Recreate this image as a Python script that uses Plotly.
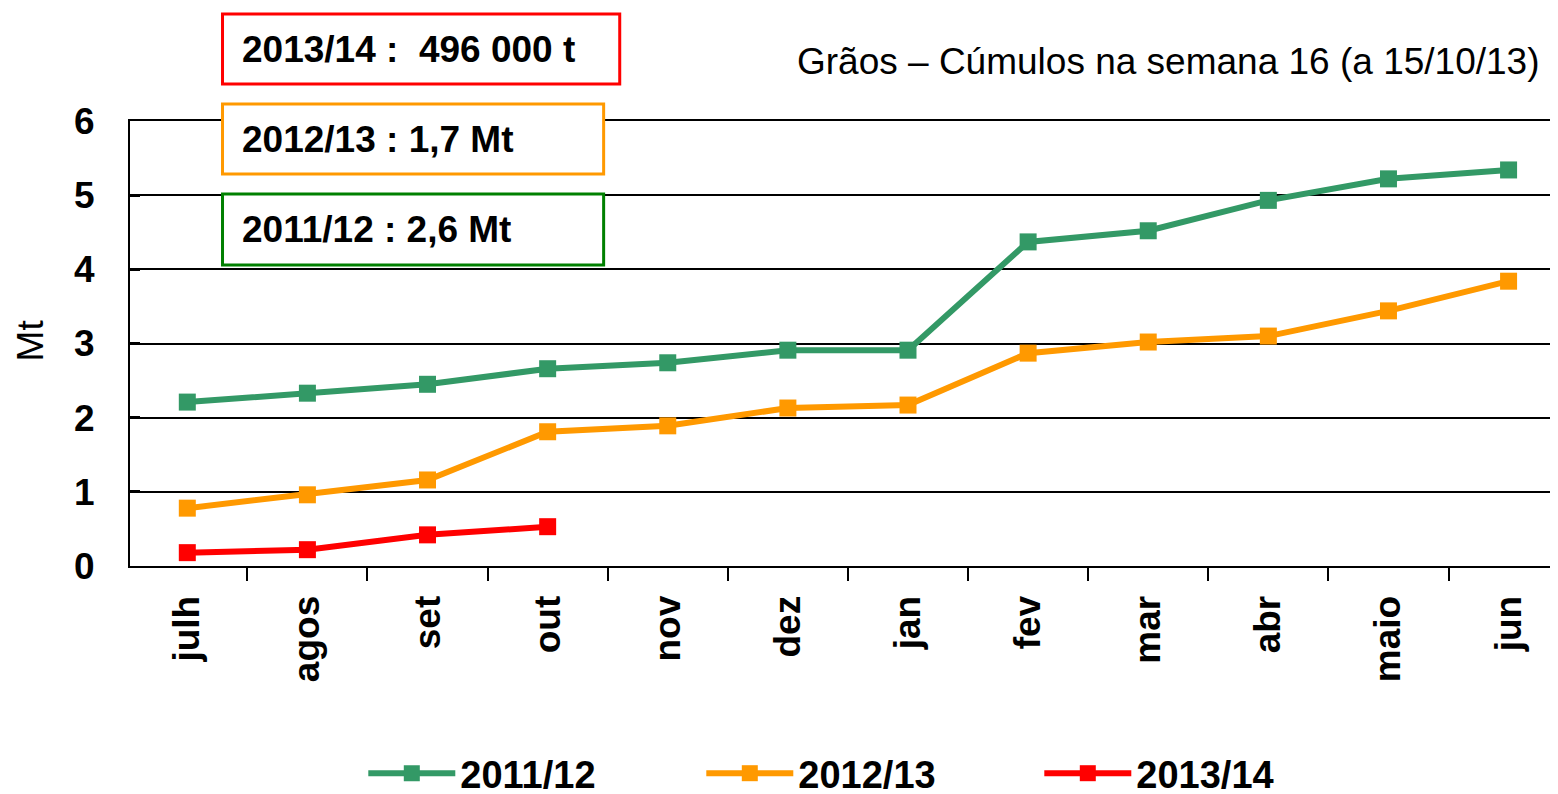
import plotly.graph_objects as go

# months of the campaign (July -> June)
months = ["julh", "agos", "set", "out", "nov", "dez", "jan", "fev", "mar", "abr", "maio", "jun"]

# cumulative grain volumes, Mt
cum_2011_12 = [2.21, 2.33, 2.45, 2.66, 2.74, 2.91, 2.91, 4.37, 4.52, 4.93, 5.22, 5.34]
cum_2012_13 = [0.78, 0.96, 1.16, 1.81, 1.89, 2.13, 2.17, 2.87, 3.02, 3.10, 3.44, 3.84]
cum_2013_14 = [0.18, 0.22, 0.42, 0.53]

series = [
    ("2011/12", cum_2011_12, "#339966"),
    ("2012/13", cum_2012_13, "#FF9900"),
    ("2013/14", cum_2013_14, "#FF0000"),
]

# summary boxes (text, border colour)
boxes = [
    ("2013/14 :\u00a0 496 000 t", "#FF0000"),
    ("2012/13 : 1,7 Mt", "#FF9900"),
    ("2011/12 : 2,6 Mt", "#008000"),
]

title_text = "Grãos – Cúmulos na semana 16 (a 15/10/13)"

# the page body has an 8px margin, so work in page pixels and shift
OFF = 8
W, H = 1558, 794
L, T = 130 - OFF, 121 - OFF
PW, PH = 1428, 445
R, B = W - L - PW - OFF, H - T - PH
FONT = "Liberation Sans, Arial, sans-serif"


def px_x(x):
    return (x - OFF - L) / PW


def px_y(y):
    return (T + PH - (y - OFF)) / PH


fig = go.Figure()
for name, vals, color in series:
    fig.add_trace(go.Scatter(
        x=months[:len(vals)], y=vals, name=name, mode="lines+markers",
        line=dict(color=color, width=6),
        marker=dict(symbol="square", size=17, color=color),
    ))

# boxes drawn as shapes (white fill hides gridlines), text as annotations
box_geom = [(222, 617, 14, 84), (222, 601, 104, 174), (222, 601, 194, 265)]
shapes, annotations = [], []
for (text, color), (x0, x1, y0, y1) in zip(boxes, box_geom):
    shapes.append(dict(
        type="rect", xref="paper", yref="paper",
        x0=px_x(x0), x1=px_x(x1), y0=px_y(y1), y1=px_y(y0),
        line=dict(color=color, width=3), fillcolor="white", layer="above",
    ))
    annotations.append(dict(
        text=text, xref="paper", yref="paper", x=px_x(239), y=px_y((y0 + y1) / 2),
        xanchor="left", yanchor="middle", showarrow=False,
        font=dict(family=FONT, size=37, color="black", weight="bold"),
    ))

annotations.append(dict(
    text=title_text, xref="paper", yref="paper", x=px_x(1533), y=px_y(62),
    xanchor="right", yanchor="middle", showarrow=False,
    font=dict(family=FONT, size=37, color="black"),
))
annotations.append(dict(
    text="Mt", xref="paper", yref="paper", x=px_x(31), y=px_y(340),
    xanchor="center", yanchor="middle", showarrow=False, textangle=-90,
    font=dict(family=FONT, size=37, color="black"),
))

fig.update_layout(
    width=W, height=H,
    margin=dict(l=L, r=R, t=T, b=B, autoexpand=False),
    plot_bgcolor="white", paper_bgcolor="white",
    font=dict(family=FONT, size=37, color="black"),
    shapes=shapes, annotations=annotations,
    showlegend=True,
    legend=dict(
        orientation="h", x=px_x(362), y=px_y(742), xanchor="left", yanchor="top",
        font=dict(family=FONT, size=38, color="black", weight="bold"),
        entrywidth=236, itemwidth=87, bgcolor="rgba(0,0,0,0)",
    ),
)
fig.update_xaxes(
    type="category", range=[-0.477, 11.478],
    showline=True, mirror=True, linecolor="black", linewidth=2,
    ticks="outside", ticklen=13, tickwidth=2, tickcolor="black", tickson="boundaries",
    tickangle=-90, ticklabelstandoff=13,
    tickfont=dict(family=FONT, size=37, color="black", weight="bold"),
    showgrid=False,
)
fig.update_yaxes(
    range=[0, 6], dtick=1,
    showline=True, linecolor="black", linewidth=2,
    ticks="inside", ticklen=10, tickwidth=3, tickcolor="black",
    showgrid=True, gridcolor="black", gridwidth=2,
    zeroline=False, ticklabelstandoff=26,
    tickfont=dict(family=FONT, size=37, color="black", weight="bold"),
)

fig.write_html("out.html")
